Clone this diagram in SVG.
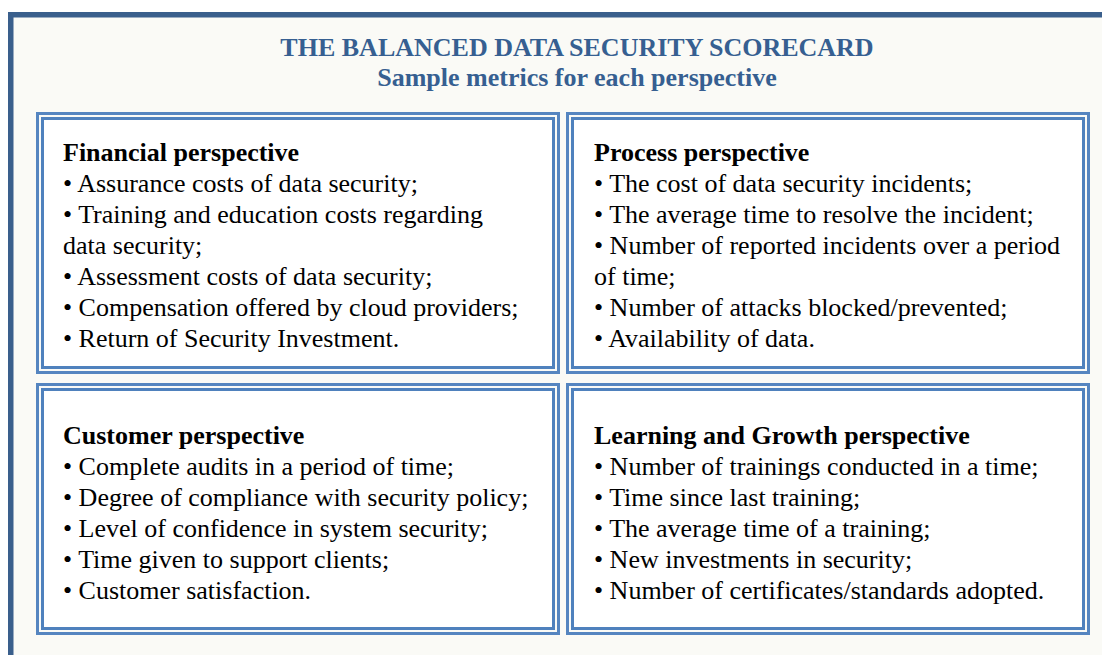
<svg xmlns="http://www.w3.org/2000/svg" width="1102" height="655" viewBox="0 0 1102 655">
<style>
.frame{fill:#FAFAF6;stroke:#3A5F8C;stroke-width:5.5}
.box{fill:#FFFFFF;stroke:#4F81BD;stroke-width:3}
.boxo{fill:none;stroke:#5585C0;stroke-width:3}
.title{font-family:"Liberation Serif","Times New Roman",serif;font-weight:bold;font-size:26px;fill:#365F91;text-anchor:middle}
.h{font-family:"Liberation Serif","Times New Roman",serif;font-weight:bold;font-size:26px;fill:#000}
.t{font-family:"Liberation Serif","Times New Roman",serif;font-size:26px;fill:#000}
</style>
<rect x="0" y="0" width="1102" height="655" fill="#FFFFFF"/>
<rect class="frame" x="10.75" y="14.75" width="1110" height="660"/>
<g id="title">
<text class="title" x="577" y="56">THE BALANCED DATA SECURITY SCORECARD</text>
<text class="title" x="577" y="86">Sample metrics for each perspective</text>
</g>
<g id="financial">
<rect class="boxo" x="37.5" y="113.5" width="521" height="259"/>
<rect class="box" x="42.5" y="118.5" width="511" height="249"/>
<text class="h" x="63" y="161">Financial perspective</text>
<text class="t" x="63" y="192">• Assurance costs of data security;</text>
<text class="t" x="63" y="223">• Training and education costs regarding</text>
<text class="t" x="63" y="254">data security;</text>
<text class="t" x="63" y="285">• Assessment costs of data security;</text>
<text class="t" x="63" y="316">• Compensation offered by cloud providers;</text>
<text class="t" x="63" y="347">• Return of Security Investment.</text>
</g>
<g id="process">
<rect class="boxo" x="567.5" y="113.5" width="521" height="259"/>
<rect class="box" x="572.5" y="118.5" width="511" height="249"/>
<text class="h" x="594" y="161">Process perspective</text>
<text class="t" x="594" y="192">• The cost of data security incidents;</text>
<text class="t" x="594" y="223">• The average time to resolve the incident;</text>
<text class="t" x="594" y="254">• Number of reported incidents over a period</text>
<text class="t" x="594" y="285">of time;</text>
<text class="t" x="594" y="316">• Number of attacks blocked/prevented;</text>
<text class="t" x="594" y="347">• Availability of data.</text>
</g>
<g id="customer">
<rect class="boxo" x="37.5" y="384.5" width="521" height="249"/>
<rect class="box" x="42.5" y="389.5" width="511" height="239"/>
<text class="h" x="63" y="444">Customer perspective</text>
<text class="t" x="63" y="475">• Complete audits in a period of time;</text>
<text class="t" x="63" y="506">• Degree of compliance with security policy;</text>
<text class="t" x="63" y="537">• Level of confidence in system security;</text>
<text class="t" x="63" y="568">• Time given to support clients;</text>
<text class="t" x="63" y="599">• Customer satisfaction.</text>
</g>
<g id="learning">
<rect class="boxo" x="567.5" y="384.5" width="521" height="249"/>
<rect class="box" x="572.5" y="389.5" width="511" height="239"/>
<text class="h" x="594" y="444">Learning and Growth perspective</text>
<text class="t" x="594" y="475">• Number of trainings conducted in a time;</text>
<text class="t" x="594" y="506">• Time since last training;</text>
<text class="t" x="594" y="537">• The average time of a training;</text>
<text class="t" x="594" y="568">• New investments in security;</text>
<text class="t" x="594" y="599">• Number of certificates/standards adopted.</text>
</g>
<g id="connectors"></g>
</svg>
